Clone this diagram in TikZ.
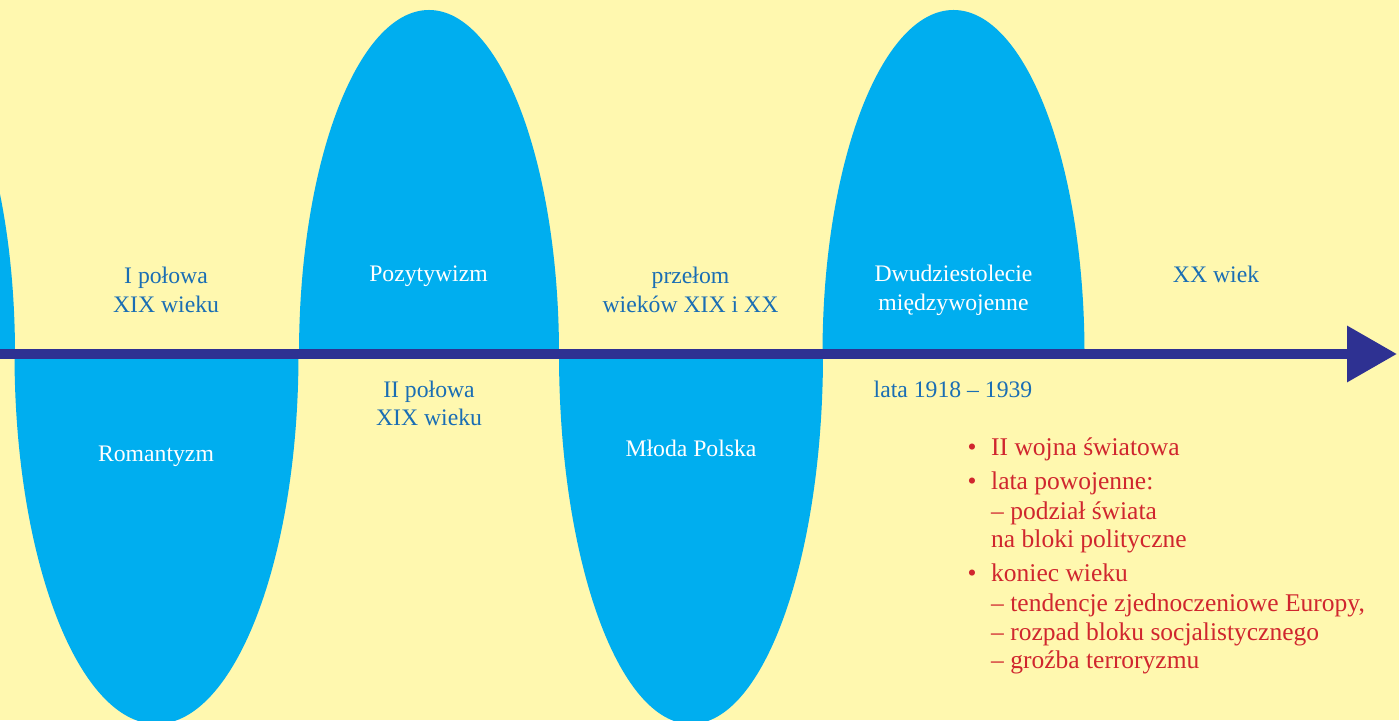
\documentclass[tikz,border=0pt]{standalone}
\usepackage{fontspec}
\setmainfont{Liberation Serif}
\usetikzlibrary{arrows.meta}
\definecolor{bgyellow}{HTML}{FFF8AF}
\definecolor{cyanfill}{HTML}{00AEEF}
\definecolor{arrowblue}{HTML}{2E3192}
\definecolor{textblue}{HTML}{1A6EB4}
\definecolor{textred}{HTML}{D0262E}
\begin{document}
\begin{tikzpicture}[x=1pt,y=1pt,
  lbl/.style={inner sep=0pt, anchor=base, font=\fontsize{23.7}{28}\selectfont},
  era/.style={lbl, text=white},
  period/.style={lbl, text=textblue},
  item/.style={lbl, text=textred, anchor=base west, font=\fontsize{25.5}{30}\selectfont},
  bul/.style={lbl, text=textred, font=\fontsize{25.5}{30}\selectfont},
  lobe/.style={fill=cyanfill, draw=none},
  timeline/.style={draw=arrowblue, line width=10, -{Triangle[length=50pt, width=54pt]}}]
\useasboundingbox (0,0) rectangle (1399,720);
\fill[bgyellow] (0,0) rectangle (1399,720);
\begin{scope}
\clip (0,0) rectangle (1399,720);
% half-ellipses
\fill[lobe] (-247,366) arc[start angle=180, end angle=0, x radius=131, y radius=344] -- cycle;
\fill[lobe] (14.5,366) arc[start angle=180, end angle=360, x radius=142, y radius=370] -- cycle;
\fill[lobe] (299,366) arc[start angle=180, end angle=0, x radius=130, y radius=344] -- cycle;
\fill[lobe] (559,366) arc[start angle=180, end angle=360, x radius=132, y radius=370] -- cycle;
\fill[lobe] (822.5,366) arc[start angle=180, end angle=0, x radius=131, y radius=344] -- cycle;
\end{scope}
% timeline arrow
\coordinate (tail) at (0,366);
\coordinate (head) at (1397,366);
\draw[timeline] (tail) -- (head);
% eras (white)
\node[era] (romantyzm) at (156,258) {Romantyzm};
\node[era] (pozytywizm) at (428.5,438) {Pozytywizm};
\node[era] (mloda) at (691,263) {Młoda Polska};
\node[era] (dwudz1) at (953.5,438) {Dwudziestolecie};
\node[era] (dwudz2) at (953.5,409) {międzywojenne};
% periods (blue)
\node[period] (p1a) at (166,436) {I połowa};
\node[period] (p1b) at (166,407) {XIX wieku};
\node[period] (p2a) at (429,322) {II połowa};
\node[period] (p2b) at (429,294) {XIX wieku};
\node[period] (p3a) at (690.5,436) {przełom};
\node[period] (p3b) at (690.5,407) {wieków XIX i XX};
\node[period] (p4) at (953,322) {lata 1918 – 1939};
\node[period] (p5) at (1216,437) {XX wiek};
% list (red)
\node[bul] (b1) at (972,264) {•};
\node[item] (i1) at (991,264) {II wojna światowa};
\node[bul] (b2) at (972,230) {•};
\node[item] (i2) at (991,230) {lata powojenne:};
\node[item] (i3) at (991,200) {– podział świata};
\node[item] (i4) at (991,172) {na bloki polityczne};
\node[bul] (b3) at (972,139) {•};
\node[item] (i5) at (991,139) {koniec wieku};
\node[item] (i6) at (991,108) {– tendencje zjednoczeniowe Europy,};
\node[item] (i7) at (991,80) {– rozpad bloku socjalistycznego};
\node[item] (i8) at (991,52) {– groźba terroryzmu};
\end{tikzpicture}
\end{document}
